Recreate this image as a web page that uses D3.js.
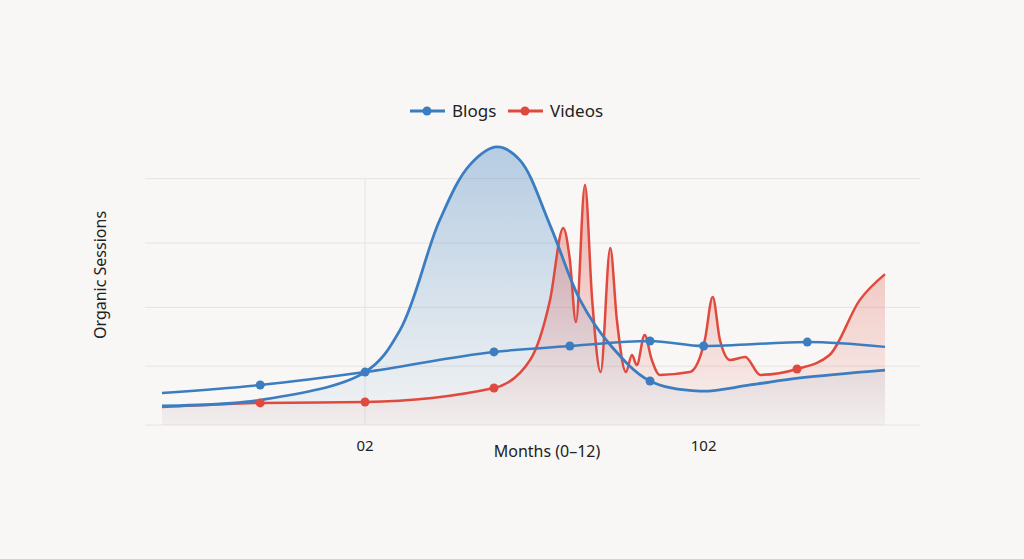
<!DOCTYPE html>
<html><head><meta charset="utf-8">
<script src="https://cdn.jsdelivr.net/npm/d3@7"></script>
<style>body{margin:0;background:#f8f7f5;font-family:"Noto Sans",sans-serif}</style>
</head><body><div id="chart"></div>
<script>
// Blogs peak series (months, sessions index)
const blogPeakX = [0,1.63,3.37,3.95,4.61,5.11,5.56,5.94,6.44,6.94,7.44,8.10,8.93,9.76,10.59,12];
const blogPeakY = [6.8,8.9,18.9,33.9,73.2,92.9,99.3,94.6,71.4,44.6,28.6,15.7,12.1,14.3,16.8,19.6];
const blogPeakMarks = [2,11];
// Blogs steady series
const blogFlatX = [0,1.63,3.37,5.51,6.77,8.10,8.99,10.71,12];
const blogFlatY = [11.4,14.3,18.9,26.1,28.2,30.0,28.2,29.6,27.9];
const blogFlatMarks = [1,3,4,5,6,7];
// Videos series
const videoX = [0,1.63,3.37,5.51,6.11,6.44,6.66,6.77,6.87,7.02,7.14,7.28,7.44,7.55,7.70,7.80,7.88,8.01,8.13,8.26,8.76,9.01,9.14,9.26,9.43,9.68,9.93,10.54,11.08,11.58,12];
const videoY = [6.4,7.9,8.2,13.2,23.2,44.6,70.4,58.9,36.8,85.7,44.6,18.9,63.2,37.5,18.9,25,21.4,32.1,23.2,17.9,18.9,30.4,45.7,30.4,23.2,24.3,17.9,20,25,44.6,53.9];
const videoMarks = [1,2,3,27];
const xTicks = [3.37,8.99], xTickLabels = ["02","102"];
const gridVals = [0,21,42,65,88];

const W=1024,H=559, blue="#3b7dc0", red="#e0493d";
const svg=d3.select("#chart").append("svg").attr("width",W).attr("height",H);
const x=d3.scaleLinear().domain([0,12]).range([162,885]);
const y=d3.scaleLinear().domain([0,100]).range([425,145]);
const defs=svg.append("defs");
function grad(id,c,o){const g=defs.append("linearGradient").attr("id",id).attr("x1",0).attr("x2",0).attr("y1",0).attr("y2",1);
 g.append("stop").attr("offset","0%").attr("stop-color",c).attr("stop-opacity",o);
 g.append("stop").attr("offset","100%").attr("stop-color",c).attr("stop-opacity",0.03);}
grad("gb",blue,0.35); grad("gr",red,0.4);

svg.selectAll(".g").data(gridVals).join("line").attr("x1",145).attr("x2",920)
 .attr("y1",d=>y(d)).attr("y2",d=>y(d)).attr("stroke","#e6e4e1");
svg.append("line").attr("x1",x(3.37)).attr("x2",x(3.37)).attr("y1",y(88)).attr("y2",y(0)).attr("stroke","#e6e4e1");

const pts=(xs,ys)=>xs.map((v,i)=>[v,ys[i]]);
const bp=pts(blogPeakX,blogPeakY), bf=pts(blogFlatX,blogFlatY), vv=pts(videoX,videoY);
const area=c=>d3.area().x(d=>x(d[0])).y0(y(0)).y1(d=>y(d[1])).curve(c);
const line=c=>d3.line().x(d=>x(d[0])).y(d=>y(d[1])).curve(c);
const smooth=d3.curveCatmullRom.alpha(0.5);
svg.append("path").attr("d",area(smooth)(bp)).attr("fill","url(#gb)");
svg.append("path").attr("d",area(d3.curveMonotoneX)(vv)).attr("fill","url(#gr)");
svg.append("path").attr("d",line(d3.curveMonotoneX)(vv)).attr("fill","none").attr("stroke",red).attr("stroke-width",2.5);
svg.append("path").attr("d",line(smooth)(bp)).attr("fill","none").attr("stroke",blue).attr("stroke-width",2.8);
svg.append("path").attr("d",line(d3.curveMonotoneX)(bf)).attr("fill","none").attr("stroke",blue).attr("stroke-width",2.5);
function marks(data,idx,c){svg.selectAll(null).data(idx.map(i=>data[i])).join("circle")
 .attr("cx",d=>x(d[0])).attr("cy",d=>y(d[1])).attr("r",4.5).attr("fill",c);}
marks(vv,videoMarks,red); marks(bf,blogFlatMarks,blue); marks(bp,blogPeakMarks,blue);

svg.selectAll(".xt").data(xTicks).join("text").attr("x",d=>x(d)).attr("y",451)
 .attr("text-anchor","middle").attr("font-size",15).attr("fill","#222").text((d,i)=>xTickLabels[i]);
svg.append("text").attr("x",547).attr("y",457).attr("text-anchor","middle").attr("font-size",16).attr("fill","#222").text("Months (0–12)");
svg.append("text").attr("transform","translate(106,275) rotate(-90)").attr("text-anchor","middle").attr("font-size",16).attr("fill","#222").text("Organic Sessions");

[[410,"Blogs",blue],[508,"Videos",red]].forEach(([lx,t,c])=>{
 svg.append("line").attr("x1",lx).attr("x2",lx+35).attr("y1",111).attr("y2",111).attr("stroke",c).attr("stroke-width",3);
 svg.append("circle").attr("cx",lx+17).attr("cy",111).attr("r",4.5).attr("fill",c);
 svg.append("text").attr("x",lx+42).attr("y",117).attr("font-size",17).attr("fill","#222").text(t);
});
</script></body></html>
